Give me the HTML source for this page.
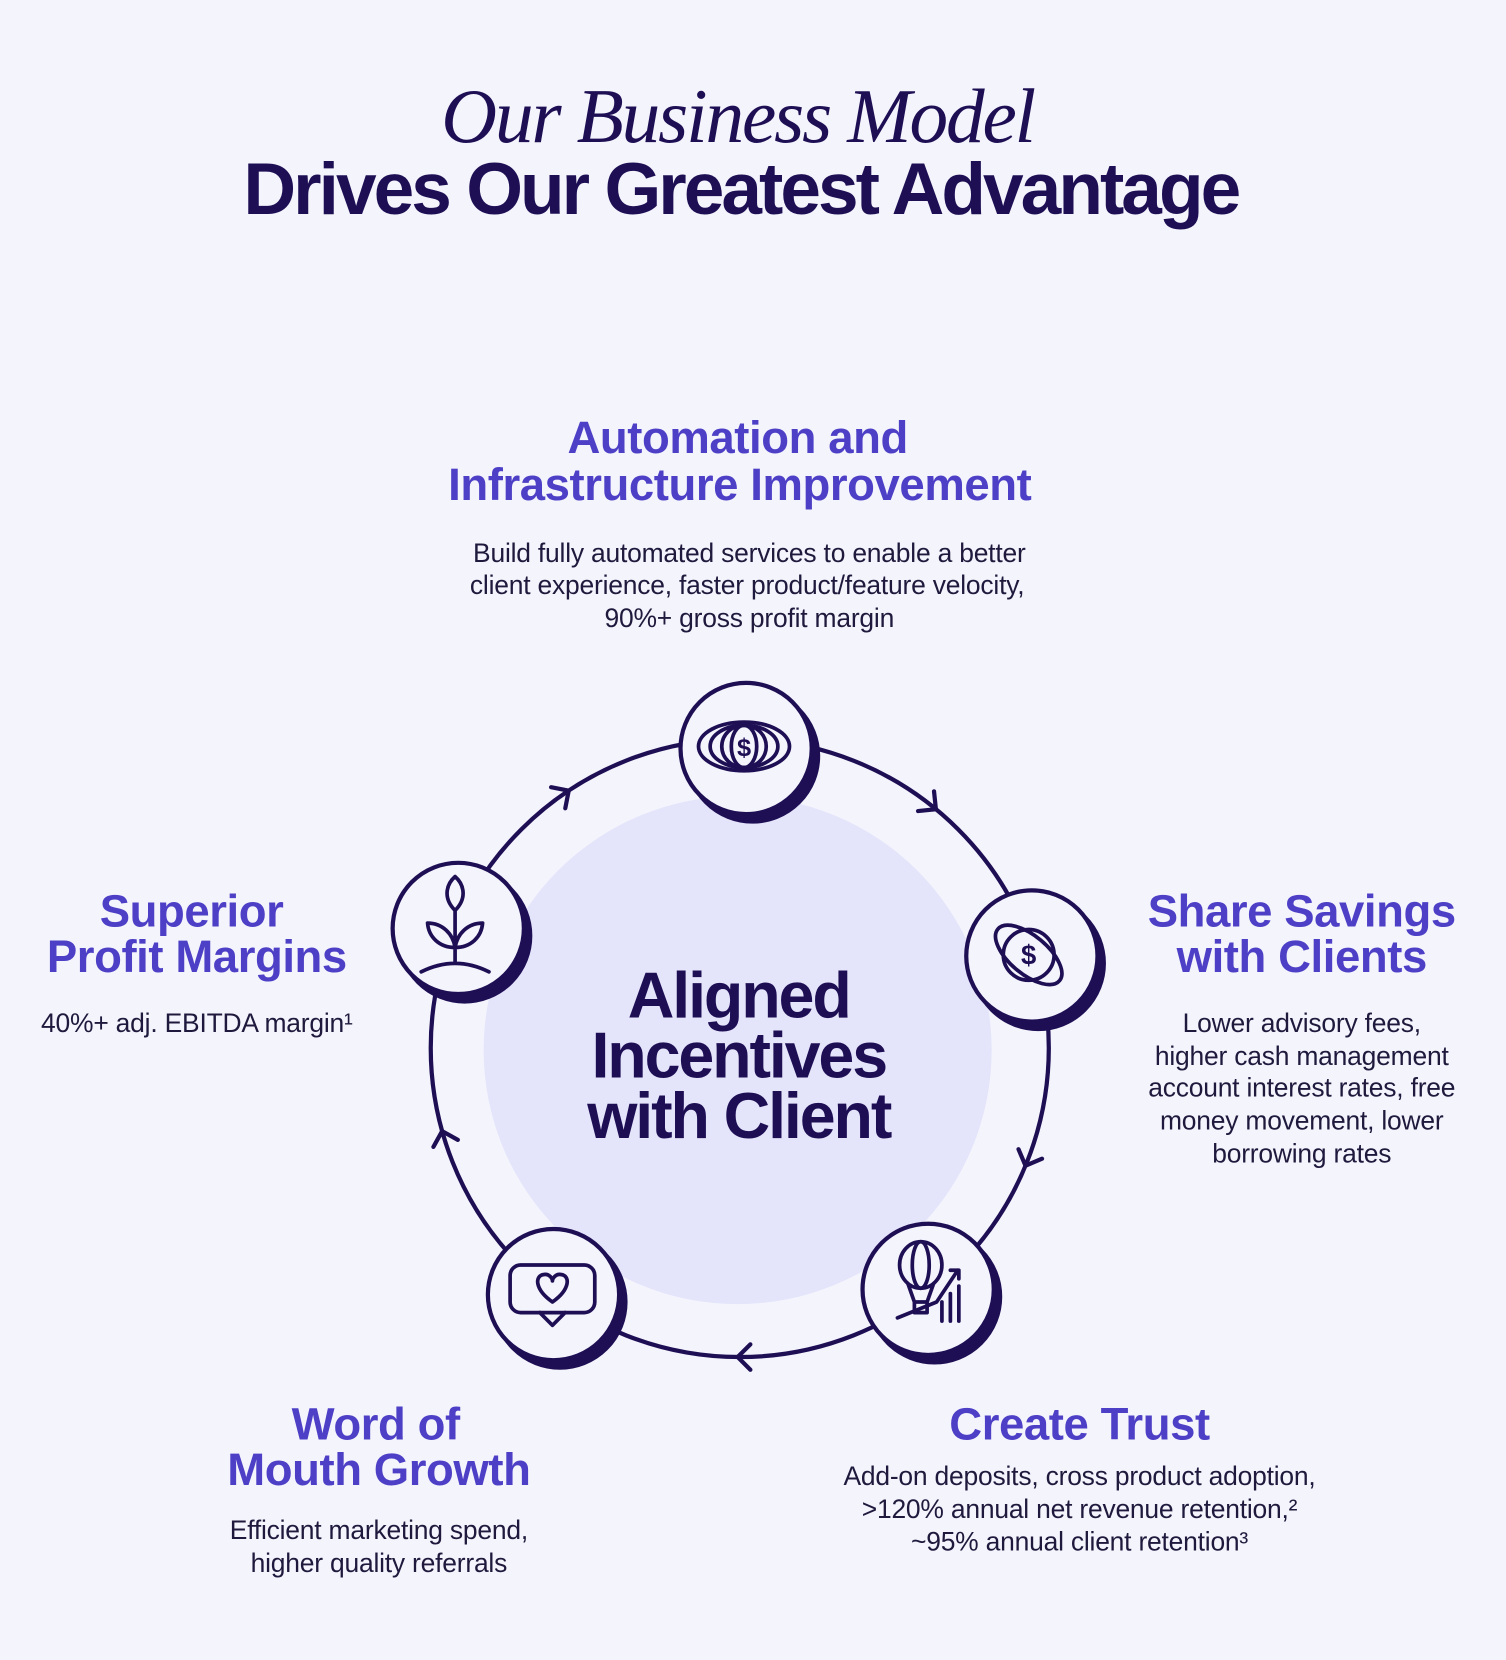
<!DOCTYPE html>
<html><head><meta charset="utf-8"><style>
html,body{margin:0;padding:0;background:#f4f4fc;}
svg{display:block}
.h{font-family:"Liberation Sans",sans-serif;font-weight:700;fill:#4d3fc6;font-size:43px;letter-spacing:-0.4px;text-anchor:middle}
.b{font-family:"Liberation Sans",sans-serif;fill:#1f1a3d;font-size:25px;text-anchor:middle;letter-spacing:-0.2px}
.ic{fill:none;stroke:#1e0f55;stroke-width:3.5;stroke-linecap:round;stroke-linejoin:round}
</style></head><body>
<svg width="1506" height="1660" viewBox="0 0 1423 1568" xmlns="http://www.w3.org/2000/svg">
<rect width="1423" height="1568" fill="#f4f4fc"/>
<text x="697" y="134" text-anchor="middle" font-family="Liberation Serif,serif" font-style="italic" font-size="73" fill="#1e0f55" letter-spacing="-2">Our Business Model</text>
<text x="700" y="202" text-anchor="middle" font-family="Liberation Sans,sans-serif" font-weight="700" font-size="69" fill="#1e0f55" letter-spacing="-2.8">Drives Our Greatest Advantage</text>

<circle cx="697" cy="992" r="240" fill="#e4e4fb"/>
<circle cx="699" cy="990" r="292" fill="none" stroke="#1e0f55" stroke-width="4"/>
<g fill="none" stroke="#1e0f55" stroke-width="4" stroke-linecap="round">
<g transform="rotate(-124 699 990)"><path d="M979 980 L991 992 L1003 980"/></g>
<g transform="rotate(-51 699 990)"><path d="M979 980 L991 992 L1003 980"/></g>
<g transform="rotate(22 699 990)"><path d="M979 980 L991 992 L1003 980"/></g>
<g transform="rotate(90 699 990)"><path d="M979 980 L991 992 L1003 980"/></g>
<g transform="rotate(164 699 990)"><path d="M979 980 L991 992 L1003 980"/></g>
</g>

<text font-family="Liberation Sans,sans-serif" font-weight="700" font-size="61" fill="#1e0f55" text-anchor="middle" letter-spacing="-2">
<tspan x="698" y="961">Aligned</tspan><tspan x="698" y="1018">Incentives</tspan><tspan x="698" y="1075">with Client</tspan></text>

<g stroke="#1e0f55" stroke-width="4">
<circle cx="711" cy="714" r="62" fill="#1e0f55"/><circle cx="705" cy="707" r="62" fill="#f4f4fc"/>
<circle cx="981" cy="910" r="62" fill="#1e0f55"/><circle cx="975" cy="903" r="62" fill="#f4f4fc"/>
<circle cx="883" cy="1225" r="62" fill="#1e0f55"/><circle cx="877" cy="1218" r="62" fill="#f4f4fc"/>
<circle cx="529" cy="1230" r="62" fill="#1e0f55"/><circle cx="523" cy="1223" r="62" fill="#f4f4fc"/>
<circle cx="439" cy="884" r="62" fill="#1e0f55"/><circle cx="433" cy="877" r="62" fill="#f4f4fc"/>
</g>
<g class="ic">
<ellipse cx="703" cy="705" rx="43" ry="23"/><ellipse cx="703" cy="705" rx="32" ry="20"/><ellipse cx="703" cy="705" rx="21" ry="20"/><ellipse cx="703" cy="705" rx="12" ry="20"/>
<text x="703" y="714" text-anchor="middle" font-family="Liberation Sans,sans-serif" font-size="24" font-weight="700" fill="#1e0f55" stroke="none">$</text>
<circle cx="972" cy="902" r="24"/><ellipse cx="972" cy="902" rx="38" ry="18" transform="rotate(40 972 902)"/>
<text x="972" y="911" text-anchor="middle" font-family="Liberation Sans,sans-serif" font-size="26" font-weight="700" fill="#1e0f55" stroke="none">$</text>
<ellipse cx="870" cy="1195" rx="20" ry="22"/><ellipse cx="870" cy="1195" rx="8" ry="22"/><path d="M858 1213 L864 1230 H876 L882 1213 M864 1230 V1240 H876 V1230"/>
<path d="M848 1245 L885 1230 L905 1200 M898 1200 H906 V1208 M890 1248 V1230 M898 1248 V1222 M906 1248 V1215"/>
<rect x="482" y="1195" width="80" height="45" rx="10"/><path d="M510 1240 L522 1252 L534 1240"/>
<path d="M522 1230 C505 1218 505 1205 514 1204 C519 1203 522 1208 522 1210 C522 1208 525 1203 530 1204 C539 1205 539 1218 522 1230 Z"/>
<path d="M398 918 Q430 902 462 918 M430 910 V860 M430 860 C418 848 422 835 430 828 C438 835 442 848 430 860 M430 895 C415 895 405 885 404 872 C418 872 428 882 430 895 M430 895 C445 895 455 885 456 872 C442 872 432 882 430 895"/>
</g>

<text class="h"><tspan x="697" y="428">Automation and</tspan><tspan x="699" y="472">Infrastructure Improvement</tspan></text>
<text class="b"><tspan x="708" y="531">Build fully automated services to enable a better</tspan><tspan x="706" y="561">client experience, faster product/feature velocity,</tspan><tspan x="708" y="592">90%+ gross profit margin</tspan></text>

<text class="h"><tspan x="181" y="875">Superior</tspan><tspan x="186" y="918">Profit Margins</tspan></text>
<text class="b"><tspan x="186" y="975">40%+ adj. EBITDA margin¹</tspan></text>

<text class="h"><tspan x="1230" y="875">Share Savings</tspan><tspan x="1230" y="918">with Clients</tspan></text>
<text class="b"><tspan x="1230" y="975">Lower advisory fees,</tspan><tspan x="1230" y="1006">higher cash management</tspan><tspan x="1230" y="1036">account interest rates, free</tspan><tspan x="1230" y="1067">money movement, lower</tspan><tspan x="1230" y="1098">borrowing rates</tspan></text>

<text class="h"><tspan x="355" y="1360">Word of</tspan><tspan x="358" y="1403">Mouth Growth</tspan></text>
<text class="b"><tspan x="358" y="1454">Efficient marketing spend,</tspan><tspan x="358" y="1485">higher quality referrals</tspan></text>

<text class="h"><tspan x="1020" y="1360">Create Trust</tspan></text>
<text class="b"><tspan x="1020" y="1403">Add-on deposits, cross product adoption,</tspan><tspan x="1020" y="1434">&gt;120% annual net revenue retention,²</tspan><tspan x="1020" y="1465">~95% annual client retention³</tspan></text>
</svg>
</body></html>
